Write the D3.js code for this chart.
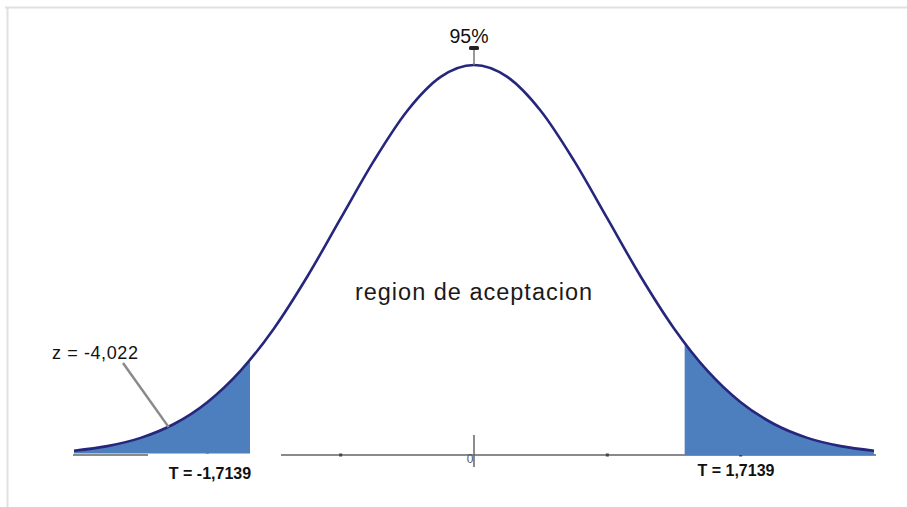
<!DOCTYPE html>
<html>
<head>
<meta charset="utf-8">
<script src="https://cdn.jsdelivr.net/npm/d3@7"></script>
<style>
  html, body { margin: 0; padding: 0; background: #fff; }
  svg { display: block; font-family: "Liberation Sans", Arial, sans-serif; }
</style>
</head>
<body>
<svg id="chart" width="907" height="507"></svg>
<script>
// ---- data ----
const zValues = [-3, -2.75, -2.5, -2.25, -2, -1.75, -1.5, -1.25, -1, -0.75, -0.5, -0.25, 0,
                 0.25, 0.5, 0.75, 1, 1.25, 1.5, 1.75, 2, 2.25, 2.5, 2.75, 3];
const density = [0.0044, 0.0091, 0.0175, 0.0317, 0.054, 0.0863, 0.1295, 0.1826, 0.242, 0.3011, 0.3521, 0.3867, 0.3989,
                 0.3867, 0.3521, 0.3011, 0.242, 0.1826, 0.1295, 0.0863, 0.054, 0.0317, 0.0175, 0.0091, 0.0044];
const leftCritical = -1.68;   // where the left shaded tail ends
const rightCritical = 1.58;   // where the right shaded tail starts
const tickValues = [-2, -1, 1, 2];
const centerLabel = "0";
const peakLabel = "95%";
const regionLabel = "region de aceptacion";
const zLabel = "z = -4,022";
const zPointer = -2.29;
const zPointerDensity = 0.0285;
const tLabels = ["T = -1,7139", "T = 1,7139"];

const points = zValues.map((z, i) => ({ z: z, d: density[i] }));

const svg = d3.select("#chart");

// frame
svg.append("line").attr("x1", 5).attr("x2", 907).attr("y1", 7.5).attr("y2", 7.5)
  .attr("stroke", "#e0e0e0").attr("stroke-width", 2);
svg.append("line").attr("x1", 7.5).attr("x2", 7.5).attr("y1", 7).attr("y2", 507)
  .attr("stroke", "#e0e0e0").attr("stroke-width", 2);

const x = d3.scaleLinear().domain([-3, 3]).range([74, 874]);
const y = d3.scaleLinear().domain([0, 0.3989]).range([455, 65]);

const curve = d3.curveMonotoneX;
const line = d3.line().x(d => x(d.z)).y(d => y(d.d)).curve(curve);
const areaLeft = d3.area().x(d => x(d.z)).y0(y(0) - 1.5).y1(d => y(d.d)).curve(curve);
const areaRight = d3.area().x(d => x(d.z)).y0(y(0)).y1(d => y(d.d)).curve(curve);

const defs = svg.append("defs");
defs.append("clipPath").attr("id", "clipLeft").append("rect")
  .attr("x", x(-3) - 5).attr("y", 0).attr("width", x(leftCritical) - x(-3) + 5).attr("height", 507);
defs.append("clipPath").attr("id", "clipRight").append("rect")
  .attr("x", x(rightCritical)).attr("y", 0).attr("width", x(3) - x(rightCritical) + 5).attr("height", 507);

// baseline axis
svg.append("line").attr("x1", x(-3) - 1).attr("x2", x(3) + 2).attr("y1", y(0)).attr("y2", y(0))
  .attr("stroke", "#8a8a8a").attr("stroke-width", 2);

// tick dots
svg.selectAll("rect.tick").data(tickValues).join("rect").attr("class", "tick")
  .attr("x", d => x(d) - 1.5).attr("y", y(0) - 1.5).attr("width", 3).attr("height", 3)
  .attr("fill", "#444");

// shaded tails
svg.append("path").datum(points).attr("d", areaLeft).attr("fill", "#4d7ebd").attr("clip-path", "url(#clipLeft)");
svg.append("path").datum(points).attr("d", areaRight).attr("fill", "#4d7ebd").attr("clip-path", "url(#clipRight)");

// white box under left label
svg.append("rect").attr("x", 148).attr("y", y(0) - 1).attr("width", 133).attr("height", 32).attr("fill", "#fff");

// curve
svg.append("path").datum(points).attr("d", line).attr("fill", "none")
  .attr("stroke", "#26267c").attr("stroke-width", 2.6).attr("stroke-linejoin", "round");

// center tick and label
svg.append("line").attr("x1", x(0)).attr("x2", x(0)).attr("y1", 435).attr("y2", 467)
  .attr("stroke", "#666").attr("stroke-width", 1.5);
svg.append("text").attr("x", x(0) - 4).attr("y", 463).attr("text-anchor", "middle")
  .attr("font-size", 12).attr("fill", "#555").text(centerLabel);

// peak marker
const peakY = y(d3.max(density));
svg.append("line").attr("x1", x(0)).attr("x2", x(0)).attr("y1", 49).attr("y2", peakY)
  .attr("stroke", "#777").attr("stroke-width", 1.5);
svg.append("rect").attr("x", x(0) - 5).attr("y", 46).attr("width", 10).attr("height", 4)
  .attr("rx", 1.5).attr("fill", "#222");
svg.append("text").attr("x", x(0) - 5).attr("y", 43).attr("text-anchor", "middle")
  .attr("font-size", 19.5).attr("fill", "#111").text(peakLabel);

// region label
svg.append("text").attr("x", 474).attr("y", 300).attr("text-anchor", "middle")
  .attr("font-size", 23.5).attr("letter-spacing", 1.0).attr("fill", "#1a1a1a").text(regionLabel);

// z pointer
svg.append("line").attr("x1", 123).attr("y1", 363)
  .attr("x2", x(zPointer)).attr("y2", y(zPointerDensity))
  .attr("stroke", "#8a8a8a").attr("stroke-width", 2.5);
svg.append("text").attr("x", 52).attr("y", 359)
  .attr("font-size", 18).attr("letter-spacing", 0.6).attr("fill", "#111").text(zLabel);

// T labels
svg.append("text").attr("x", 210).attr("y", 479).attr("text-anchor", "middle")
  .attr("font-size", 16).attr("font-weight", "bold").attr("fill", "#111").text(tLabels[0]);
svg.append("text").attr("x", 736).attr("y", 476).attr("text-anchor", "middle")
  .attr("font-size", 16).attr("font-weight", "bold").attr("fill", "#111").text(tLabels[1]);
</script>
</body>
</html>
